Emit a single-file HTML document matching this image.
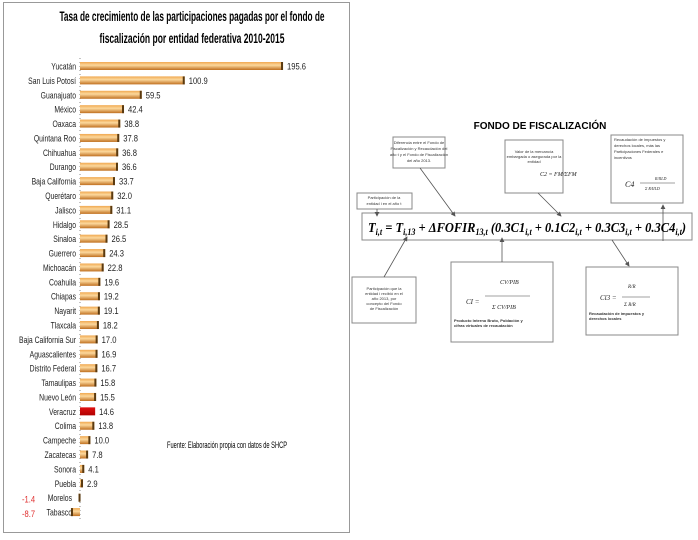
<!DOCTYPE html>
<html><head><meta charset="utf-8"><style>
body{margin:0;background:#fff;width:698px;height:540px;overflow:hidden}
svg{display:block}
</style></head><body>
<svg width="698" height="540" xmlns="http://www.w3.org/2000/svg" font-family="Liberation Sans, sans-serif">
<defs>
<linearGradient id="g" x1="0" y1="0" x2="0" y2="1">
<stop offset="0" stop-color="#f0a850"/><stop offset="0.4" stop-color="#fcd89c"/><stop offset="1" stop-color="#c07020"/>
</linearGradient>
<linearGradient id="r" x1="0" y1="0" x2="0" y2="1">
<stop offset="0" stop-color="#e01010"/><stop offset="1" stop-color="#b00000"/>
</linearGradient>
<marker id="a" markerWidth="6" markerHeight="6" refX="5" refY="3" orient="auto"><path d="M0,0 L6,3 L0,6z" fill="#555"/></marker>
</defs>
<rect x="3.5" y="2.5" width="346" height="530" fill="#fff" stroke="#999"/>
<text x="192" y="21" font-size="14" font-weight="bold" text-anchor="middle" textLength="265" lengthAdjust="spacingAndGlyphs">Tasa de crecimiento de las participaciones  pagadas por el fondo de</text>
<text x="192" y="43" font-size="14" font-weight="bold" text-anchor="middle" textLength="185" lengthAdjust="spacingAndGlyphs">fiscalización por entidad federativa 2010-2015</text>
<line x1="80" y1="58" x2="80" y2="520" stroke="#888" stroke-dasharray="1,3"/>
<g id="bars" font-size="9.5"></g>
<text x="167" y="448" font-size="9.5" textLength="120" lengthAdjust="spacingAndGlyphs">Fuente: Elaboración propia con datos de SHCP</text>

<text x="540" y="129" font-size="10" font-weight="bold" text-anchor="middle">FONDO DE FISCALIZACIÓN</text>
<g fill="#fff" stroke="#888" stroke-width="1">
<rect x="393" y="137" width="52" height="31"/>
<rect x="505" y="140" width="58" height="53"/>
<rect x="611" y="135" width="72" height="68"/>
<rect x="357" y="193" width="55" height="16"/>
<rect x="362" y="213" width="330" height="27"/>
<rect x="352" y="277" width="64" height="46"/>
<rect x="451" y="262" width="102" height="80"/>
<rect x="586" y="267" width="92" height="68"/>
</g>
<g stroke="#555" stroke-width="0.8" marker-end="url(#a)" fill="none">
<line x1="420" y1="168" x2="455" y2="216"/>
<line x1="538" y1="193" x2="561" y2="216"/>
<line x1="663" y1="241" x2="663" y2="205"/>
<line x1="377" y1="209" x2="377" y2="216"/>
<line x1="384" y1="277" x2="407" y2="237"/>
<line x1="502" y1="262" x2="502" y2="238"/>
<line x1="612" y1="240" x2="629" y2="266"/>
</g>
<text x="527" y="232" font-size="14" font-weight="bold" font-style="italic" font-family="Liberation Serif, serif" text-anchor="middle" textLength="318" lengthAdjust="spacingAndGlyphs">T<tspan font-size="9" dy="3">i,t</tspan><tspan dy="-3"> = T</tspan><tspan font-size="9" dy="3">i,13</tspan><tspan dy="-3"> + ΔFOFIR</tspan><tspan font-size="9" dy="3">13,t</tspan><tspan dy="-3"> (0.3C1</tspan><tspan font-size="9" dy="3">i,t</tspan><tspan dy="-3"> + 0.1C2</tspan><tspan font-size="9" dy="3">i,t</tspan><tspan dy="-3"> + 0.3C3</tspan><tspan font-size="9" dy="3">i,t</tspan><tspan dy="-3"> + 0.3C4</tspan><tspan font-size="9" dy="3">i,t</tspan><tspan dy="-3">)</tspan></text>
<g font-size="4" fill="#333" text-anchor="middle">
<text x="419" y="144">Diferencia entre el Fondo de</text><text x="419" y="150">Fiscalización y Recaudación del</text><text x="419" y="156">año t y el Fondo de Fiscalización</text><text x="419" y="162">del año 2013.</text>
<text x="534" y="153">Valor de la mercancía</text><text x="534" y="158">embargada o asegurada por la</text><text x="534" y="163">entidad</text>
<text x="384" y="199">Participación de la</text><text x="384" y="205">entidad i en el año t</text>
<text x="384" y="290">Participación que la</text><text x="384" y="295">entidad i recibió en el</text><text x="384" y="300">año 2013, por</text><text x="384" y="305">concepto del Fondo</text><text x="384" y="310">de Fiscalización</text>
</g>
<g font-size="4" fill="#333">
<text x="614" y="141">Recaudación de impuestos y</text><text x="614" y="147">derechos locales, más las</text><text x="614" y="153">Participaciones Federales e</text><text x="614" y="159">incentivos</text>
<text x="454" y="322" font-weight="bold">Producto Interno Bruto, Población y</text><text x="454" y="327" font-weight="bold">cifras virtuales de recaudación</text>
<text x="589" y="315" font-weight="bold">Recaudación de impuestos y</text><text x="589" y="320" font-weight="bold">derechos locales</text>
</g>
<g font-family="Liberation Serif, serif" font-style="italic" fill="#222">
<text x="540" y="176" font-size="6">C2 = FM/ΣFM</text>
<text x="625" y="187" font-size="8">C4</text><text x="655" y="180" font-size="4">R/IILD</text><line x1="640" y1="183" x2="675" y2="183" stroke="#444" stroke-width="0.5"/><text x="645" y="190" font-size="4">Σ R/IILD</text>
<text x="466" y="304" font-size="7">CI =</text><text x="500" y="284" font-size="6">CV/PIB</text><line x1="485" y1="296" x2="530" y2="296" stroke="#444" stroke-width="0.5"/><text x="492" y="309" font-size="6">Σ CV/PIB</text>
<text x="600" y="300" font-size="7">Cl3 =</text><text x="628" y="288" font-size="5">R/R</text><line x1="622" y1="297" x2="650" y2="297" stroke="#444" stroke-width="0.5"/><text x="624" y="306" font-size="5">Σ R/R</text>
</g>
</svg>
<script>
var d=[["Yucatán",195.6],["San Luis Potosí",100.9],["Guanajuato",59.5],["México",42.4],["Oaxaca",38.8],["Quintana Roo",37.8],["Chihuahua",36.8],["Durango",36.6],["Baja California",33.7],["Querétaro",32.0],["Jalisco",31.1],["Hidalgo",28.5],["Sinaloa",26.5],["Guerrero",24.3],["Michoacán",22.8],["Coahuila",19.6],["Chiapas",19.2],["Nayarit",19.1],["Tlaxcala",18.2],["Baja California Sur",17.0],["Aguascalientes",16.9],["Distrito Federal",16.7],["Tamaulipas",15.8],["Nuevo León",15.5],["Veracruz",14.6],["Colima",13.8],["Campeche",10.0],["Zacatecas",7.8],["Sonora",4.1],["Puebla",2.9],["Morelos",-1.4],["Tabasco",-8.7]];
var g=document.getElementById('bars'),s="",k=1.038;
d.forEach(function(e,i){var y=66+i*14.39,v=e[1],w=Math.abs(v)*k,x=v<0?80-w:80;
var red=e[0]=="Veracruz";var lx=v<0?72:76;
s+='<text x="'+lx+'" y="'+(y+3.5)+'" text-anchor="end" fill="#222" transform="translate('+lx+' 0) scale(0.72 1) translate(-'+lx+' 0)">'+e[0]+'</text>';
s+='<rect x="'+x+'" y="'+(y-4)+'" width="'+w+'" height="8" fill="url(#'+(red?'r':'g')+')"/>';
if(!red)s+='<rect x="'+(v<0?x:x+w-2)+'" y="'+(y-4)+'" width="2" height="8" fill="#5a3a10"/>';
if(v>=0)s+='<text x="'+(x+w+4)+'" y="'+(y+3.5)+'" fill="#222" transform="translate('+(x+w+4)+' 0) scale(0.8 1) translate(-'+(x+w+4)+' 0)">'+v.toFixed(1)+'</text>';
else s+='<text x="22" y="'+(y+5)+'" fill="#e03030" transform="translate(22 0) scale(0.8 1) translate(-22 0)">'+v.toFixed(1)+'</text>';});
g.innerHTML=s;
</script>
</body></html>
